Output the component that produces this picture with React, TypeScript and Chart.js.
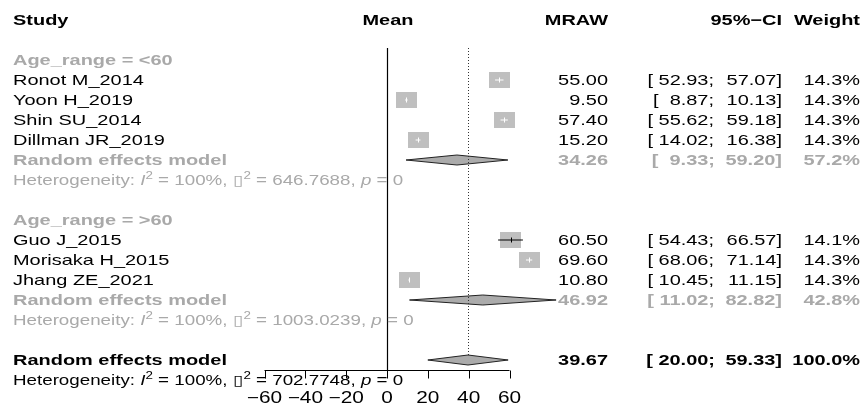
import { useEffect, useRef } from "react";
import { Chart, registerables } from "chart.js";

Chart.register(...registerables);

// ---------- data ----------
const studyLabels = ["Ronot M_2014", "Yoon H_2019", "Shin SU_2014", "Dillman JR_2019", "Guo J_2015", "Morisaka H_2015", "Jhang ZE_2021"];
const studyMeans = [55.0, 9.5, 57.4, 15.2, 60.5, 69.6, 10.8];
const studyLower = [52.93, 8.87, 55.62, 14.02, 54.43, 68.06, 10.45];
const studyUpper = [57.07, 10.13, 59.18, 16.38, 66.57, 71.14, 11.15];
const studyWeights = ["14.3%", "14.3%", "14.3%", "14.3%", "14.1%", "14.3%", "14.3%"];
const studyRows = [4, 5, 6, 7, 12, 13, 14];

const summaryLabels = ["Random effects model", "Random effects model", "Random effects model"];
const summaryMeans = [34.26, 46.92, 39.67];
const summaryLower = [9.33, 11.02, 20.0];
const summaryUpper = [59.2, 82.82, 59.33];
const summaryWeights = ["57.2%", "42.8%", "100.0%"];
const summaryRows = [8, 15, 18];
const summaryOverall = [false, false, true];

const hetI2 = ["100%", "100%", "100%"];
const hetTau2 = ["646.7688", "1003.0239", "702.7748"];
const hetP = ["0", "0", "0"];
const hetRows = [9, 16, 19];
const hetOverall = [false, false, true];

const groupLabels = ["Age_range = <60", "Age_range = >60"];
const groupRows = [3, 11];

const headers = ["Study", "Mean", "MRAW", "95%\u2212CI", "Weight"];
const xTicks = [-60, -40, -20, 0, 20, 40, 60];

// ---------- layout / style ----------
const W = 863;
const H = 409;
const X_MIN = -189.55;
const X_MAX = 233.14;
const Y_MAX = 20.45;
const HEADER_ROW = 1;
const LINES_TOP_ROW = 2.4;
const AXIS_ROW = 18.5;
const TICK_LABEL_ROW = 19.85;
const COL_LEFT = 13;
const COL_MEAN = 388;
const COL_MRAW = 608;
const COL_CI_LO = 714;
const COL_CI = 782;
const COL_W = 860;
const SX = 1.33;
const HET_SX = 1.34;
const FS = 15;
const HET_FS = 14;
const TICK_FS = 16;
const FAMILY = '"Liberation Sans", Arial, Helvetica, sans-serif';
const GRAY = "#a9a9a9";
const BLACK = "#000000";
const SQ_COLOR = "#bfbfbf";
const SQ_W = 21;
const SQ_H = 16;
const DIAMOND_FILL = "#ababab";
const DIAMOND_STROKE = "#222222";

const fmt = (v: number) => v.toFixed(2);
const ciLoText = (lo: number) => "[" + fmt(lo).padStart(6, " ") + ";";
const ciHiText = (hi: number) => fmt(hi) + "]";

function drawText(
  ctx: CanvasRenderingContext2D,
  s: string,
  x: number,
  yc: number,
  align: "left" | "right" | "center",
  bold: boolean,
  color: string,
  size = FS,
  italic = false,
  sx = SX
) {
  ctx.save();
  ctx.font = `${italic ? "italic " : ""}${bold ? "bold " : ""}${size}px ${FAMILY}`;
  const w = ctx.measureText(s).width * sx;
  const left = align === "left" ? x : align === "right" ? x - w : x - w / 2;
  ctx.translate(left, yc + size * 0.36);
  ctx.scale(sx, 1);
  ctx.fillStyle = color;
  ctx.textAlign = "left";
  ctx.textBaseline = "alphabetic";
  ctx.fillText(s, 0, 0);
  ctx.restore();
  return w;
}

type Seg = { t: string; it?: boolean; sup?: boolean };

function drawRich(ctx: CanvasRenderingContext2D, segs: Seg[], x: number, yc: number, color: string) {
  let cx = x;
  for (const s of segs) {
    if (s.sup) {
      cx += drawText(ctx, s.t, cx, yc - 5, "left", false, color, 10, false, HET_SX);
    } else {
      cx += drawText(ctx, s.t, cx, yc, "left", false, color, HET_FS, !!s.it, HET_SX);
    }
  }
}

const forestPlugin = {
  id: "forestPlugin",
  beforeDatasetsDraw(chart: any) {
    const ctx: CanvasRenderingContext2D = chart.ctx;
    const xs = chart.scales.x;
    const ys = chart.scales.y;
    ctx.save();
    // diamonds
    summaryMeans.forEach((m, i) => {
      const yc = ys.getPixelForValue(summaryRows[i]);
      const xl = xs.getPixelForValue(summaryLower[i]);
      const xm = xs.getPixelForValue(m);
      const xr = xs.getPixelForValue(summaryUpper[i]);
      ctx.beginPath();
      ctx.moveTo(xl, yc);
      ctx.lineTo(xm, yc - 5);
      ctx.lineTo(xr, yc);
      ctx.lineTo(xm, yc + 5);
      ctx.closePath();
      ctx.fillStyle = DIAMOND_FILL;
      ctx.fill();
      ctx.lineWidth = 1;
      ctx.strokeStyle = DIAMOND_STROKE;
      ctx.stroke();
    });
    // no-effect line at 0
    const top = ys.getPixelForValue(LINES_TOP_ROW);
    const axisY = Math.round(ys.getPixelForValue(AXIS_ROW)) + 0.5;
    const x0 = Math.round(xs.getPixelForValue(0)) + 0.5;
    ctx.beginPath();
    ctx.moveTo(x0, top);
    ctx.lineTo(x0, axisY);
    ctx.strokeStyle = BLACK;
    ctx.lineWidth = 1.2;
    ctx.stroke();
    // overall effect dotted line
    const overallIdx = summaryOverall.indexOf(true);
    const xo = Math.round(xs.getPixelForValue(summaryMeans[overallIdx])) + 0.5;
    ctx.beginPath();
    ctx.setLineDash([1, 2]);
    ctx.moveTo(xo, top);
    ctx.lineTo(xo, ys.getPixelForValue(summaryRows[overallIdx]) - 5);
    ctx.strokeStyle = "#333333";
    ctx.lineWidth = 1;
    ctx.stroke();
    ctx.setLineDash([]);
    ctx.restore();
  },
  afterDatasetsDraw(chart: any) {
    const ctx: CanvasRenderingContext2D = chart.ctx;
    const xs = chart.scales.x;
    const ys = chart.scales.y;
    ctx.save();
    // tick marks at study means
    studyMeans.forEach((m, i) => {
      const xm = xs.getPixelForValue(m);
      const yc = ys.getPixelForValue(studyRows[i]);
      const wide = xs.getPixelForValue(studyUpper[i]) - xs.getPixelForValue(studyLower[i]) > SQ_W;
      ctx.beginPath();
      ctx.moveTo(Math.round(xm) + 0.5, yc - 2.5);
      ctx.lineTo(Math.round(xm) + 0.5, yc + 2.5);
      ctx.strokeStyle = wide ? BLACK : "#ffffff";
      ctx.lineWidth = 1;
      ctx.stroke();
    });
    // x axis
    const axisY = Math.round(ys.getPixelForValue(AXIS_ROW)) + 0.5;
    const xa = xs.getPixelForValue(xTicks[0]);
    const xb = xs.getPixelForValue(xTicks[xTicks.length - 1]);
    ctx.beginPath();
    ctx.moveTo(xa, axisY);
    ctx.lineTo(xb, axisY);
    xTicks.forEach((t) => {
      const xt = Math.round(xs.getPixelForValue(t)) + 0.5;
      ctx.moveTo(xt, axisY);
      ctx.lineTo(xt, axisY + 8);
    });
    ctx.strokeStyle = BLACK;
    ctx.lineWidth = 1;
    ctx.stroke();
    const tly = ys.getPixelForValue(TICK_LABEL_ROW);
    xTicks.forEach((t) => {
      const label = t < 0 ? "\u2212" + Math.abs(t) : String(t);
      drawText(ctx, label, xs.getPixelForValue(t), tly, "center", false, BLACK, TICK_FS, false, 1.3);
    });

    // headers
    const hy = ys.getPixelForValue(HEADER_ROW);
    drawText(ctx, headers[0], COL_LEFT, hy, "left", true, BLACK);
    drawText(ctx, headers[1], COL_MEAN, hy, "center", true, BLACK);
    drawText(ctx, headers[2], COL_MRAW, hy, "right", true, BLACK);
    drawText(ctx, headers[3], COL_CI, hy, "right", true, BLACK);
    drawText(ctx, headers[4], COL_W, hy, "right", true, BLACK);

    // subgroup labels
    groupLabels.forEach((g, i) => {
      drawText(ctx, g, COL_LEFT, ys.getPixelForValue(groupRows[i]), "left", true, GRAY);
    });

    // studies
    studyLabels.forEach((s, i) => {
      const yc = ys.getPixelForValue(studyRows[i]);
      drawText(ctx, s, COL_LEFT, yc, "left", false, BLACK);
      drawText(ctx, fmt(studyMeans[i]), COL_MRAW, yc, "right", false, BLACK);
      drawText(ctx, ciLoText(studyLower[i]), COL_CI_LO, yc, "right", false, BLACK);
      drawText(ctx, ciHiText(studyUpper[i]), COL_CI, yc, "right", false, BLACK);
      drawText(ctx, studyWeights[i], COL_W, yc, "right", false, BLACK);
    });

    // summaries
    summaryLabels.forEach((s, i) => {
      const yc = ys.getPixelForValue(summaryRows[i]);
      const c = summaryOverall[i] ? BLACK : GRAY;
      drawText(ctx, s, COL_LEFT, yc, "left", true, c);
      drawText(ctx, fmt(summaryMeans[i]), COL_MRAW, yc, "right", true, c);
      drawText(ctx, ciLoText(summaryLower[i]), COL_CI_LO + 1, yc, "right", true, c);
      drawText(ctx, ciHiText(summaryUpper[i]), COL_CI, yc, "right", true, c);
      drawText(ctx, summaryWeights[i], COL_W, yc, "right", true, c);
    });

    // heterogeneity
    hetRows.forEach((r, i) => {
      const c = hetOverall[i] ? BLACK : GRAY;
      drawRich(
        ctx,
        [
          { t: "Heterogeneity: " },
          { t: "I", it: true },
          { t: "2", sup: true },
          { t: " = " + hetI2[i] + ", " },
          { t: "\u25AF" },
          { t: "2", sup: true },
          { t: " = " + hetTau2[i] + ", " },
          { t: "p", it: true },
          { t: " = " + hetP[i] },
        ],
        COL_LEFT,
        ys.getPixelForValue(r),
        c
      );
    });
    ctx.restore();
  },
};

export default function App() {
  const ref = useRef<HTMLCanvasElement>(null);
  useEffect(() => {
    document.body.style.margin = "0";
    const canvas = ref.current;
    if (!canvas) return;
    const sq = document.createElement("canvas");
    sq.width = SQ_W;
    sq.height = SQ_H;
    const sctx = sq.getContext("2d");
    if (sctx) {
      sctx.fillStyle = SQ_COLOR;
      sctx.fillRect(0, 0, SQ_W, SQ_H);
    }

    const ciDatasets = studyMeans.map((_, i) => ({
      type: "scatter" as const,
      label: "CI " + studyLabels[i],
      data: [
        { x: studyLower[i], y: studyRows[i] },
        { x: studyUpper[i], y: studyRows[i] },
      ],
      showLine: true,
      pointRadius: 0,
      borderWidth: 1,
      borderColor: (c: any) => {
        const xs = c.chart.scales?.x;
        if (!xs) return "#ffffff";
        const w = xs.getPixelForValue(studyUpper[i]) - xs.getPixelForValue(studyLower[i]);
        return w > SQ_W ? BLACK : "#ffffff";
      },
      order: 1,
    }));

    const chart = new Chart(canvas, {
      type: "scatter",
      data: {
        datasets: [
          {
            label: "Studies",
            data: studyMeans.map((m, i) => ({ x: m, y: studyRows[i] })),
            pointStyle: sq as any,
            pointRadius: 10,
            order: 2,
          } as any,
          ...ciDatasets,
        ],
      },
      options: {
        responsive: false,
        animation: false,
        devicePixelRatio: 1,
        events: [],
        layout: { padding: 0, autoPadding: false },
        plugins: { legend: { display: false }, tooltip: { enabled: false } },
        scales: {
          x: { type: "linear", min: X_MIN, max: X_MAX, display: false },
          y: { type: "linear", min: 0, max: Y_MAX, reverse: true, display: false },
        },
      },
      plugins: [forestPlugin],
    });
    return () => chart.destroy();
  }, []);
  return (
    <div style={{ position: "absolute", left: 0, top: 0, width: W, height: H, background: "#fff" }}>
      <canvas ref={ref} width={W} height={H} style={{ display: "block", width: W, height: H }} />
    </div>
  );
}
